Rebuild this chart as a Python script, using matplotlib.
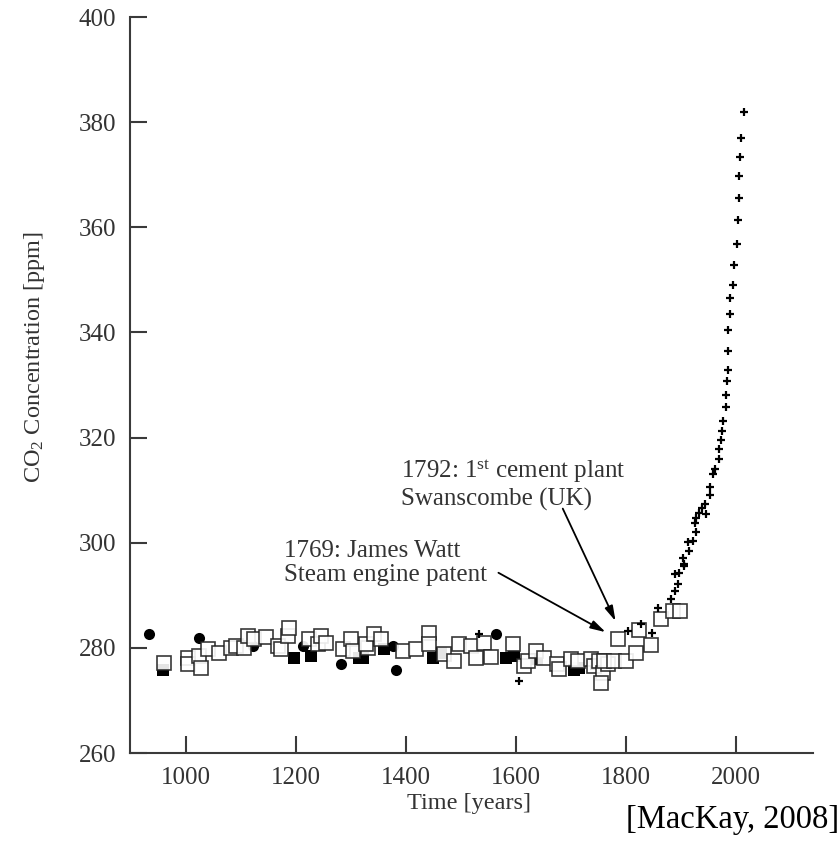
import numpy as np
import matplotlib
matplotlib.use('Agg')
import matplotlib.pyplot as plt

plt.rcParams['font.family'] = ['Liberation Serif', 'DejaVu Serif']
plt.rcParams['mathtext.fontset'] = 'custom'
plt.rcParams['mathtext.rm'] = 'Liberation Serif'
plt.rcParams['mathtext.it'] = 'Liberation Serif:italic'

# ice core data, open squares
sq_year = [960, 1004, 1004, 1024, 1027, 1040, 1060, 1082, 1091, 1105, 1113, 1124,
           1145, 1167, 1173, 1185, 1187, 1224, 1240, 1245, 1254, 1285, 1300, 1303,
           1330, 1327, 1342, 1354, 1394, 1418, 1441, 1441, 1469, 1487, 1496, 1518,
           1527, 1541, 1554, 1594, 1614, 1621, 1636, 1650, 1675, 1678, 1700, 1712,
           1736, 1742, 1751, 1758, 1754, 1767, 1760, 1778, 1785, 1800, 1818, 1823,
           1845, 1863, 1885, 1899]
sq_ppm = [277.1, 278.0, 277.0, 278.5, 276.2, 279.8, 279.0, 280.0, 280.4, 280.0, 282.3, 281.7,
          282.0, 280.4, 279.8, 282.3, 283.8, 281.7, 280.8, 282.3, 281.0, 279.8, 281.7, 279.4,
          280.0, 280.8, 282.7, 281.7, 279.4, 279.8, 282.9, 280.8, 278.8, 277.5, 280.8, 280.4,
          278.0, 281.0, 278.3, 280.8, 276.6, 277.5, 279.4, 278.0, 277.0, 276.0, 277.9, 277.5,
          277.9, 276.6, 277.5, 275.2, 273.3, 277.0, 277.5, 277.5, 281.7, 277.5, 279.0, 283.4,
          280.6, 285.5, 287.0, 287.0]

# filled squares
fsq_year = [958, 1196, 1227, 1314, 1321, 1360, 1449, 1463, 1581, 1596, 1639, 1705, 1715, 1745]
fsq_ppm = [275.8, 278.0, 278.5, 278.0, 278.0, 279.8, 278.0, 279.0, 278.0, 278.5, 277.9, 275.8, 276.2, 277.0]

# filled circles
circ_year = [933, 1024, 1122, 1213, 1282, 1376, 1381, 1563]
circ_ppm = [282.7, 281.9, 280.4, 280.4, 276.9, 280.4, 275.8, 282.7]

# modern record, plus signs
pl_year = [1532, 1605, 1803, 1827, 1848, 1859, 1881, 1890, 1894, 1890, 1897, 1903,
           1905, 1905, 1912, 1914, 1921, 1925, 1928, 1928, 1932, 1939, 1943, 1945,
           1952, 1952, 1959, 1961, 1970, 1970, 1973, 1975, 1977, 1981, 1981, 1983,
           1985, 1986, 1985, 1989, 1989, 1994, 1996, 2001, 2003, 2006, 2005, 2008,
           2010, 2014]
pl_ppm = [282.7, 273.7, 283.2, 284.6, 282.9, 287.6, 289.3, 290.9, 292.2, 294.0, 294.3, 297.1,
          295.6, 296.0, 300.2, 298.5, 300.4, 303.8, 302.1, 304.8, 305.7, 306.7, 307.4, 305.5,
          309.1, 310.7, 313.1, 314.1, 316.0, 317.9, 319.6, 321.3, 323.2, 325.9, 328.2, 330.7,
          332.8, 336.4, 340.4, 343.6, 346.5, 349.0, 352.8, 356.8, 361.3, 365.5, 369.7, 373.3,
          377.0, 381.9]

fig = plt.figure(figsize=(8.4, 8.5), dpi=100)
ax = fig.add_axes([0.1548, 0.114, 0.813, 0.866])

ax.plot(fsq_year, fsq_ppm, 's', color='black', ms=8, mew=0)
ax.plot(circ_year, circ_ppm, 'o', color='black', ms=8, mew=0)
ax.plot(sq_year, sq_ppm, 's', mfc='white', mec='#222222', ms=10, mew=1.2, alpha=0.9)
ax.plot(pl_year, pl_ppm, '+', color='black', ms=5.5, mew=1.6)

ax.set_xlim(898, 2140)
ax.set_ylim(260, 400)
ax.set_xticks([1000, 1200, 1400, 1600, 1800, 2000])
ax.set_yticks(np.arange(260, 401, 20))

for s in ['top', 'right']:
    ax.spines[s].set_visible(False)
for s in ['left', 'bottom']:
    ax.spines[s].set_color('#3a3a3a')
    ax.spines[s].set_linewidth(1.5)
ax.tick_params(direction='in', length=12, width=1.5, color='#3a3a3a',
               labelsize=18, labelcolor='#333333', pad=10)

fig.text(35 / 840, 1 - 357 / 850, r'CO$_2$ Concentration [ppm]', rotation=90,
         ha='center', va='center', fontsize=17.5, color='#333333')
fig.text(469 / 840, 1 - 803 / 850, 'Time [years]', ha='center', va='center',
         fontsize=17.5, color='#333333')
fig.text(0.999, 1 - 820 / 850, '[MacKay, 2008]', ha='right', va='center',
         fontsize=23.5, color='black')

ax.text(1390, 306.0, '1792: 1$^{\\mathrm{st}}$ cement plant\nSwanscombe (UK)',
        fontsize=18, color='#333333', va='bottom', linespacing=1.15)
ax.text(1178, 291.7, '1769: James Watt\nSteam engine patent',
        fontsize=18, color='#333333', va='bottom', linespacing=1.15)

arrow = dict(arrowstyle='-|>,head_length=0.9,head_width=0.25', color='black', lw=1.3,
             shrinkA=0, shrinkB=0)
ax.annotate('', xy=(1781, 285.1), xytext=(1685, 306.5), arrowprops=arrow)
ax.annotate('', xy=(1763, 283.0), xytext=(1568, 294.3), arrowprops=arrow)

fig.savefig('out.png', dpi=100)
